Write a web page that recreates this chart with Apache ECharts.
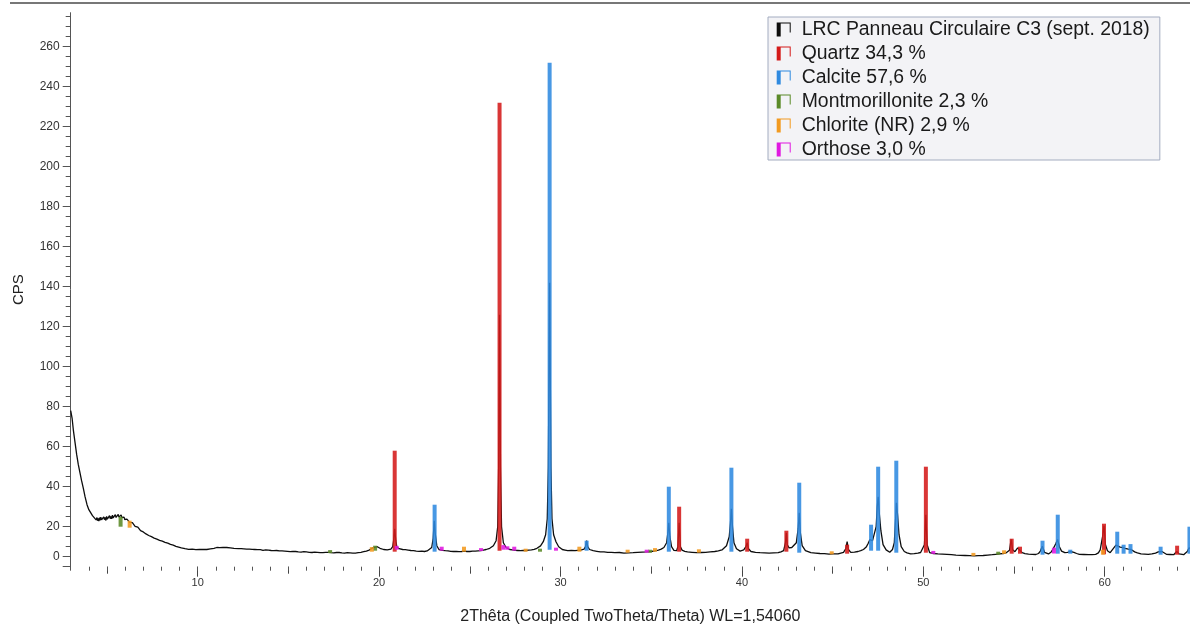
<!DOCTYPE html>
<html>
<head>
<meta charset="utf-8">
<script src="https://cdn.jsdelivr.net/npm/echarts@6/dist/echarts.min.js"></script>
<style>
html,body{margin:0;padding:0;background:#fff;}
#chart{width:1190px;height:631px;}
</style>
</head>
<body>
<div id="chart"></div>
<script>
// ---------- DATA ----------
const scanTheta = [
 3.00,3.08,3.15,3.24,3.33,3.42,3.51,3.60,3.70,3.79,3.90,4.00,4.10,4.20,4.30,4.40,4.45,4.48,4.52,4.55,
 4.59,4.62,4.66,4.70,4.74,4.78,4.82,4.86,4.90,4.94,4.98,5.02,5.06,5.10,5.14,5.18,5.22,5.26,5.30,5.34,
 5.38,5.42,5.46,5.50,5.54,5.58,5.62,5.66,5.70,5.74,5.78,5.82,5.86,5.90,5.94,5.98,6.02,6.06,6.10,6.15,
 6.20,6.25,6.30,6.35,6.40,6.45,6.50,6.55,6.60,6.65,6.70,6.75,6.80,6.85,6.92,7.00,7.08,7.15,7.22,7.30,
 7.38,7.45,7.52,7.60,7.68,7.75,7.82,7.90,7.98,8.05,8.12,8.20,8.28,8.35,8.42,8.50,8.58,8.65,8.72,8.80,
 8.88,8.95,9.02,9.10,9.20,9.30,9.40,9.50,9.60,9.70,9.80,9.90,10.00,10.10,10.20,10.30,10.40,10.50,10.60,10.70,
 10.80,10.90,11.00,11.05,11.10,11.15,11.22,11.30,11.40,11.50,11.60,11.70,11.80,11.90,12.00,12.10,12.25,12.40,12.55,12.70,
 12.85,13.00,13.15,13.30,13.45,13.60,13.75,13.90,14.05,14.20,14.35,14.50,14.65,14.80,14.95,15.10,15.25,15.40,15.55,15.70,
 15.85,16.00,16.15,16.30,16.45,16.60,16.75,16.90,17.05,17.20,17.35,17.50,17.65,17.80,17.95,18.10,18.25,18.40,18.55,18.70,
 18.85,19.00,19.15,19.30,19.45,19.55,19.65,19.75,19.90,20.05,20.25,20.45,20.65,20.75,20.80,20.86,20.92,20.98,21.10,21.30,
 21.45,21.60,21.75,21.90,22.05,22.20,22.35,22.50,22.65,22.75,22.90,22.98,23.04,23.10,23.18,23.30,23.50,23.65,23.80,23.95,
 24.10,24.25,24.40,24.55,24.70,24.85,25.00,25.15,25.30,25.45,25.60,25.75,25.90,26.10,26.30,26.45,26.54,26.59,26.64,26.69,
 26.75,26.85,27.00,27.20,27.35,27.50,27.65,27.80,27.95,28.10,28.25,28.40,28.55,28.70,28.90,29.05,29.18,29.27,29.33,29.37,
 29.40,29.43,29.47,29.53,29.62,29.75,29.90,30.10,30.25,30.40,30.60,30.80,30.95,31.10,31.30,31.38,31.44,31.50,31.60,31.80,
 32.00,32.20,32.40,32.60,32.80,33.00,33.25,33.50,33.75,34.00,34.25,34.50,34.75,35.00,35.20,35.40,35.55,35.70,35.85,35.92,
 35.97,36.03,36.12,36.25,36.40,36.47,36.54,36.61,36.70,36.85,37.00,37.25,37.50,37.75,38.00,38.25,38.50,38.70,38.90,39.15,
 39.30,39.37,39.42,39.48,39.56,39.70,39.90,40.10,40.22,40.29,40.36,40.50,40.75,41.00,41.25,41.50,41.75,42.00,42.15,42.30,
 42.40,42.45,42.50,42.60,42.75,42.85,43.00,43.10,43.16,43.22,43.32,43.50,43.65,43.80,44.05,44.30,44.55,44.80,45.05,45.30,
 45.45,45.60,45.73,45.80,45.87,46.00,46.20,46.40,46.55,46.70,46.85,46.95,47.05,47.12,47.20,47.30,47.40,47.46,47.51,47.58,
 47.66,47.78,47.95,48.15,48.30,48.40,48.46,48.52,48.58,48.66,48.78,48.95,49.10,49.30,49.50,49.70,49.85,49.95,50.06,50.14,
 50.21,50.35,50.55,50.80,51.05,51.30,51.55,51.80,52.05,52.30,52.55,52.80,53.05,53.30,53.55,53.80,54.00,54.20,54.40,54.55,
 54.75,54.84,54.92,55.05,55.20,55.30,55.45,55.60,55.80,56.00,56.20,56.35,56.45,56.56,56.68,56.90,57.05,57.15,57.30,57.40,
 57.50,57.62,57.80,57.95,58.10,58.30,58.45,58.60,58.85,59.10,59.30,59.50,59.65,59.75,59.88,59.96,60.04,60.15,60.30,60.50,
 60.62,60.72,60.85,61.00,61.12,61.30,61.45,61.65,61.80,62.00,62.20,62.40,62.60,62.80,62.95,63.05,63.15,63.40,63.60,63.80,
 63.97,64.10,64.20,64.35,64.55,64.65,64.70
];
const scanCps = [
 78,74,68,62,56,51,47,43,39,35,31,28.5,27,25.5,24.8,23.4,24.6,23.0,24.2,22.8,
 24.5,23.2,24.8,23.4,24.2,22.9,24.9,23.5,24.6,23.1,25.2,23.8,24.7,23.6,25.5,24.0,25.1,23.9,25.8,24.4,
 25.3,24.1,26.0,24.6,25.4,24.3,26.2,24.8,25.5,24.2,25.9,24.5,25.0,23.9,24.8,23.6,24.4,23.2,23.8,22.9,
 23.4,22.2,22.8,21.6,22.0,21.0,21.4,20.2,20.6,19.4,19.8,18.8,19.1,18.0,18.2,17.4,17.6,16.4,16.7,15.6,
 15.9,15.0,15.2,14.3,14.6,13.8,13.9,13.2,13.4,12.8,12.9,12.2,12.4,11.8,11.9,11.2,11.4,10.8,10.9,10.2,
 10.4,9.8,9.9,9.4,9.2,9.0,9.1,8.7,8.9,8.8,8.6,8.5,8.8,8.7,8.5,8.6,8.8,8.6,8.9,8.9,
 9.1,9.2,9.4,9.6,9.3,9.2,9.5,9.5,9.7,9.8,9.6,9.6,9.4,9.4,9.2,9.2,9.0,9.0,8.9,8.8,
 8.8,8.7,8.6,8.5,8.5,8.2,8.4,8.3,8.1,8.0,8.1,7.9,7.9,7.8,7.7,7.5,7.7,7.6,7.4,7.3,
 7.5,7.4,7.2,7.1,7.3,7.2,7.0,7.0,7.2,7.2,7.0,6.9,7.1,7.1,6.9,6.8,7.0,6.9,6.8,6.8,
 7.0,7.2,7.5,7.8,8.3,8.6,9.4,9.8,10,9.2,8.6,8.4,8.8,10,13,19,13,9.8,9.0,8.6,
 8.5,8.3,8.1,8.0,7.8,7.7,7.8,7.6,7.9,8.2,9.6,14,23,16,10.5,8.6,8.2,8.0,7.9,7.7,
 7.6,7.7,7.5,7.6,7.8,7.6,7.6,7.8,7.8,7.9,8.0,8.3,8.6,9.2,10.5,13,20,50,126,50,
 20,12,9.6,8.6,8.4,8.2,8.1,8.0,8.2,8.1,8.3,8.4,8.7,9.2,10.4,12.5,16,24,50,105,
 142,105,50,24,16,12.5,10,8.6,8.3,8.0,8.1,8.0,8.2,8.3,8.8,10,13,10,8.6,8.0,
 7.7,7.4,7.4,7.2,7.2,7.0,7.1,6.8,6.9,7.0,7.2,7.3,7.4,7.6,7.9,8.3,8.8,9.6,12,17,
 22,15,10,8.2,8.0,10,22,10,8.3,7.7,7.4,7.2,7.0,7.1,7.2,7.4,7.6,7.9,8.4,10.5,
 15,22,29,20,12,9,7.8,8.4,10,12,9,7.6,7.2,7.0,6.9,6.8,6.9,7.0,7.4,8.0,
 12,17,11,9.4,9.6,10,12,19,27,17,10.5,8,7.5,7,6.8,6.6,6.5,6.3,6.4,6.4,
 6.8,7.2,9,12.5,8.6,7.2,7.3,7.6,8.0,8.6,9.8,11.5,13.5,14.5,13,13.5,20,30,35,26,
 18,11,8.4,7.2,8.6,12,22,32,26,16,10,7.6,6.9,6.4,6.5,6.8,7.1,7.5,11,26,
 11,7,6.6,6.4,6.3,6.2,6.0,5.8,5.7,5.6,5.5,5.4,5.5,5.6,5.8,6.0,6.2,6.4,6.6,6.8,
 8.2,13.7,8.5,7.5,9.4,8.8,7,6.5,6.3,6.2,6.1,6.6,7.8,10.2,7.2,6.4,7.4,8.8,11.5,13.6,
 10,7.8,7,7.2,7.6,7.2,6.6,6.2,6.1,6.0,6.0,6.2,6.9,8.4,15,20.5,11,8,7,9.4,
 10.8,10.4,9.8,9.6,9.2,8.8,8.6,7.4,6.9,6.4,6.3,6.2,6.4,6.8,7.4,8.2,7.6,6.2,6.1,6.0,
 7.6,6.4,6.1,6.0,7.6,9.4,9.2
];
// reference sticks: [2theta, base cps, top cps]
const quartzSticks = [
 [20.86,7.5,58],[26.64,8,232],[36.54,7.5,30],[40.29,7.5,14],[42.45,7.5,18],[45.80,6.5,11],
 [50.14,7,50],[54.87,6.5,14],[55.33,6.5,10],[59.96,6.2,21.5],[63.99,6,10.5]
];
const calciteSticks = [
 [23.06,7.5,31],[29.40,8.5,252],[31.44,8,13],[35.97,7.5,40],[39.42,7.5,49.5],[43.16,7,42],
 [47.12,8,21],[47.51,8,50],[48.51,7,53],[56.57,6,13],[57.41,6.5,26],[58.10,6.5,8.5],
 [60.69,6.5,17.5],[61.04,6.5,11],[61.42,6.5,11.3],[63.08,6,10],[64.67,6.5,20]
];
const montmorilloniteSticks = [
 [5.75,20,25],[17.30,6.8,7.8],[19.78,8,10.5],[28.87,7.5,9],[34.93,7,8.5],[54.13,6,7]
];
const chloriteSticks = [
 [6.25,19.5,23],[19.60,7.5,9.8],[24.68,7.5,10],[28.08,7.5,8.8],[31.04,7.5,10],[33.70,7,8.4],
 [35.21,7.5,9.3],[37.63,7,8.7],[44.95,6.2,7.2],[52.76,5.4,6.8],[54.45,6.4,8.2],[59.90,6,8.5]
];
const orthoseSticks = [
 [20.97,8.5,10.4],[23.45,8,10],[25.62,7.8,8.8],[26.85,8.5,10.8],[27.07,8.5,10.2],[27.45,8,10],
 [29.75,8,8.8],[34.75,7,8.4],[50.55,6.4,7],[57.20,6.6,9.5]
];
const seriesNames = [
 'LRC Panneau Circulaire C3 (sept. 2018)','Quartz 34,3 %','Calcite 57,6 %',
 'Montmorillonite 2,3 %','Chlorite (NR) 2,9 %','Orthose 3,0 %'
];
const xLabelValues = [10,20,30,40,50,60];
const xMidTicks = [5,15,25,35,45,55];
const yLabelValues = [0,20,40,60,80,100,120,140,160,180,200,220,240,260];
const yMajorTicks = [0,5,20,40,60,80,100,120,140,160,180,200,220,240,260];

// ---------- CHART ----------
const xMinorTicks = []; for (let v = 3; v <= 64; v++) xMinorTicks.push(v);
const yMinorTicks = []; for (let v = 0; v <= 275; v += 5) yMinorTicks.push(v);

const FONT = '"Liberation Sans", Arial, sans-serif';
const colors = ['#0d0d0d','#d41a1a','#2f8ae0','#5b8a28','#f29a20','#e018e0'];
const XMIN = 3, XMAX = 64.7, YMIN = 0, YMAX = 277;

function stickRender(params, api) {
  const x = api.value(0), b = api.value(1), t = api.value(2);
  const pt = api.coord([x, t]), pb = api.coord([x, b]);
  const w = 4;
  const h = Math.max(3, pb[1] - pt[1]);
  return {
    type: 'rect',
    shape: { x: pt[0] - w / 2, y: pb[1] - h, width: w, height: h },
    style: { fill: api.visual('color'), opacity: 0.88 }
  };
}
function stickSeries(name, data, color) {
  return {
    type: 'custom', name: name, data: data, color: color,
    itemStyle: { color: color },
    renderItem: stickRender, encode: { x: 0, y: [1, 2] }, z: 3, silent: true
  };
}

const iconPath = 'path://M0,0H4V14H0Z M4,0H14V1H4Z M13,0H14V10H13Z';

const baseX = { type: 'value', min: XMIN, max: XMAX, gridIndex: 0, position: 'bottom',
  axisLine: { show: false }, splitLine: { show: false }, axisLabel: { show: false } };
const baseY = { type: 'value', min: YMIN, max: YMAX, gridIndex: 0, position: 'left',
  axisLine: { show: false }, splitLine: { show: false }, axisLabel: { show: false } };

const chart = echarts.init(document.getElementById('chart'), null, { renderer: 'canvas' });
chart.setOption({
  animation: false,
  backgroundColor: '#ffffff',
  textStyle: { fontFamily: FONT },
  grid: { left: 70.7, right: 0, top: 12.7, bottom: 64.3, containLabel: false },
  legend: {
    orient: 'vertical', left: 768, top: 17,
    padding: [3, 10, 1, 8.7], itemGap: 5,
    itemWidth: 14, itemHeight: 14,
    backgroundColor: '#f3f3f6', borderColor: '#a3acc0', borderWidth: 1,
    textStyle: { fontSize: 19.4, color: '#1a1a1a', fontFamily: FONT, padding: [0, 0, 0, 6] },
    data: seriesNames.map(n => ({ name: n, icon: iconPath }))
  },
  xAxis: [
    Object.assign({}, baseX, {
      name: '2Thêta (Coupled TwoTheta/Theta) WL=1,54060',
      nameLocation: 'middle', nameGap: 42,
      nameTextStyle: { fontSize: 16, color: '#222', fontFamily: FONT },
      axisTick: { show: true, length: 10, customValues: xLabelValues, lineStyle: { color: '#444', width: 1 } },
      axisLabel: { show: true, customValues: xLabelValues, fontSize: 11, color: '#333', margin: 11, fontFamily: FONT }
    }),
    Object.assign({}, baseX, {
      axisTick: { show: true, length: 7, customValues: xMidTicks, lineStyle: { color: '#444', width: 1 } }
    }),
    Object.assign({}, baseX, {
      axisTick: { show: true, length: 4, customValues: xMinorTicks, lineStyle: { color: '#555', width: 1 } }
    })
  ],
  yAxis: [
    Object.assign({}, baseY, {
      name: 'CPS', nameLocation: 'middle', nameGap: 44,
      nameTextStyle: { fontSize: 15, color: '#222', fontFamily: FONT },
      axisLine: { show: true, lineStyle: { color: '#555', width: 1 } },
      axisTick: { show: true, length: 8, customValues: yMajorTicks, lineStyle: { color: '#555', width: 1 } },
      axisLabel: {
        show: true, customValues: yLabelValues, fontSize: 12, color: '#333', margin: 11, fontFamily: FONT,
        formatter: v => v === 0 ? '{lift|0}' : String(v),
        rich: { lift: { padding: [0, 0, 20, 0], fontSize: 12, color: '#333', fontFamily: FONT } }
      }
    }),
    Object.assign({}, baseY, {
      axisTick: { show: true, length: 5, customValues: yMinorTicks, lineStyle: { color: '#555', width: 1 } }
    })
  ],
  graphic: [{
    type: 'line', shape: { x1: 10, y1: 3, x2: 1190, y2: 3 },
    style: { stroke: '#4a4a4a', lineWidth: 1.5 }, silent: true
  }],
  series: [
    {
      type: 'line', name: seriesNames[0], xAxisIndex: 0, yAxisIndex: 0,
      data: scanTheta.map((t, i) => [t, scanCps[i]]),
      showSymbol: false, symbol: 'none', color: colors[0],
      itemStyle: { color: colors[0] },
      lineStyle: { color: colors[0], width: 1.3 }, z: 2, silent: true
    },
    stickSeries(seriesNames[1], quartzSticks, colors[1]),
    stickSeries(seriesNames[2], calciteSticks, colors[2]),
    stickSeries(seriesNames[3], montmorilloniteSticks, colors[3]),
    stickSeries(seriesNames[4], chloriteSticks, colors[4]),
    stickSeries(seriesNames[5], orthoseSticks, colors[5])
  ]
});
</script>
</body>
</html>
